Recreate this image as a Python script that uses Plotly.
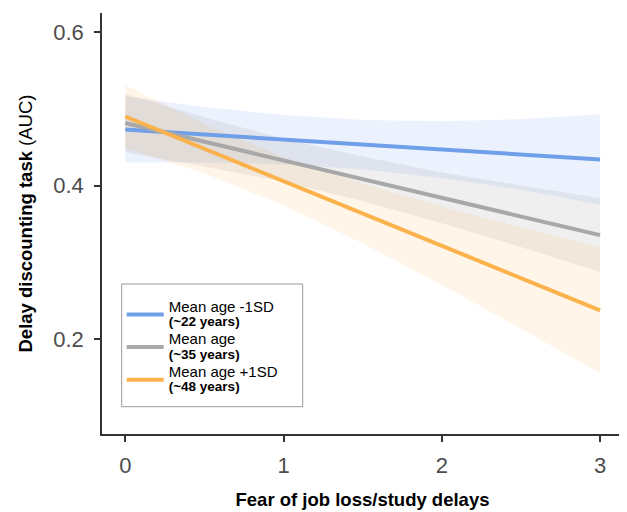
import plotly.graph_objects as go

# --- data ---
x_vals = [0, 0.5, 1, 1.5, 2, 2.5, 3]

young_fit   = [0.473, 0.4665, 0.460, 0.4535, 0.447, 0.4405, 0.434]
young_upper = [0.516, 0.5025, 0.492, 0.4855, 0.484, 0.4865, 0.493]
young_lower = [0.430, 0.4305, 0.428, 0.4215, 0.410, 0.3945, 0.375]

mean_fit   = [0.4815, 0.457, 0.433, 0.409, 0.384, 0.360, 0.3355]
mean_upper = [0.5195, 0.489, 0.461, 0.438, 0.417, 0.400, 0.3835]
mean_lower = [0.4435, 0.425, 0.405, 0.380, 0.351, 0.320, 0.2875]

old_fit   = [0.490, 0.4479, 0.4058, 0.3638, 0.3217, 0.2796, 0.2375]
old_upper = [0.531, 0.480, 0.437, 0.4027, 0.3729, 0.3454, 0.319]
old_lower = [0.449, 0.4158, 0.3746, 0.3249, 0.2705, 0.2138, 0.156]

x_ticks = [0, 1, 2, 3]
y_ticks = [0.2, 0.4, 0.6]

group_labels = ["Mean age -1SD", "Mean age", "Mean age +1SD"]
group_ages = ["(~22 years)", "(~35 years)", "(~48 years)"]

fits = [young_fit, mean_fit, old_fit]
uppers = [young_upper, mean_upper, old_upper]
lowers = [young_lower, mean_lower, old_lower]
line_colors = ["#6F9FE8", "#A8A8A8", "#FBB24C"]
fill_colors = ["rgba(100,149,237,0.13)", "rgba(166,166,166,0.18)", "rgba(253,180,75,0.13)"]

fig = go.Figure()

for i in range(3):
    fig.add_trace(go.Scatter(
        x=x_vals + x_vals[::-1], y=uppers[i] + lowers[i][::-1],
        fill="toself", fillcolor=fill_colors[i], line=dict(width=0),
        mode="lines", showlegend=False, hoverinfo="skip"))

for i in range(3):
    name = (f"<span style='font-size:15px'>{group_labels[i]}</span><br>"
            f"<b><span style='font-size:13.5px'>{group_ages[i]}</span></b>")
    fig.add_trace(go.Scatter(
        x=x_vals, y=fits[i], mode="lines", name=name,
        legendgroup=f"g{i}",
        line=dict(color=line_colors[i], width=4)))

font_family = "Liberation Sans, Arial, sans-serif"

# legend frame (page body has an 8px offset; figure is 619x504)
W, H = 619, 504
ml, mr, mt, mb = 94, 4, 5, 78
pw, ph = W - ml - mr, H - mt - mb
box_l, box_r, box_t, box_b = 113.7, 294.7, 276, 398.7  # figure pixels

def px_x(p):
    return (p - ml) / pw

def px_y(p):
    return (H - mb - p) / ph

fig.add_shape(type="rect", xref="paper", yref="paper",
              x0=px_x(box_l), x1=px_x(box_r), y0=px_y(box_b), y1=px_y(box_t),
              line=dict(color="#999999", width=1), fillcolor="white", layer="above")

fig.update_layout(
    width=W, height=H,
    margin=dict(l=ml, r=mr, t=mt, b=mb),
    paper_bgcolor="white", plot_bgcolor="white",
    font=dict(family=font_family, color="#000"),
    legend=dict(
        x=px_x(box_l), y=px_y(box_t + 9.7), xanchor="left", yanchor="top",
        bgcolor="rgba(0,0,0,0)", borderwidth=0,
        font=dict(size=11, color="#000", family=font_family),
        itemwidth=37, tracegroupgap=1, traceorder="grouped",
    ),
    xaxis=dict(
        range=[-0.147, 3.145], tickvals=x_ticks, ticktext=[str(v) for v in x_ticks],
        showgrid=False, zeroline=False, automargin=False,
        showline=True, linecolor="#333333", linewidth=1.5,
        ticks="outside", ticklen=6, tickwidth=1.5, tickcolor="#333333",
        tickfont=dict(size=22, color="#4D4D4D"), ticklabelstandoff=5,
        title=dict(text="<b>Fear of job loss/study delays</b>",
                   font=dict(size=18.5, color="#000"), standoff=16),
    ),
    yaxis=dict(
        range=[0.0766, 0.6248], tickvals=y_ticks, ticktext=["0.2", "0.4", "0.6"],
        showgrid=False, zeroline=False, automargin=False,
        showline=True, linecolor="#333333", linewidth=1.5,
        ticks="outside", ticklen=6, tickwidth=1.5, tickcolor="#333333",
        tickfont=dict(size=22, color="#4D4D4D"), ticklabelstandoff=6,
        title=dict(text="<b>Delay discounting task</b> (AUC)",
                   font=dict(size=18.5, color="#000"), standoff=16),
    ),
)

fig.write_html("out.html")
